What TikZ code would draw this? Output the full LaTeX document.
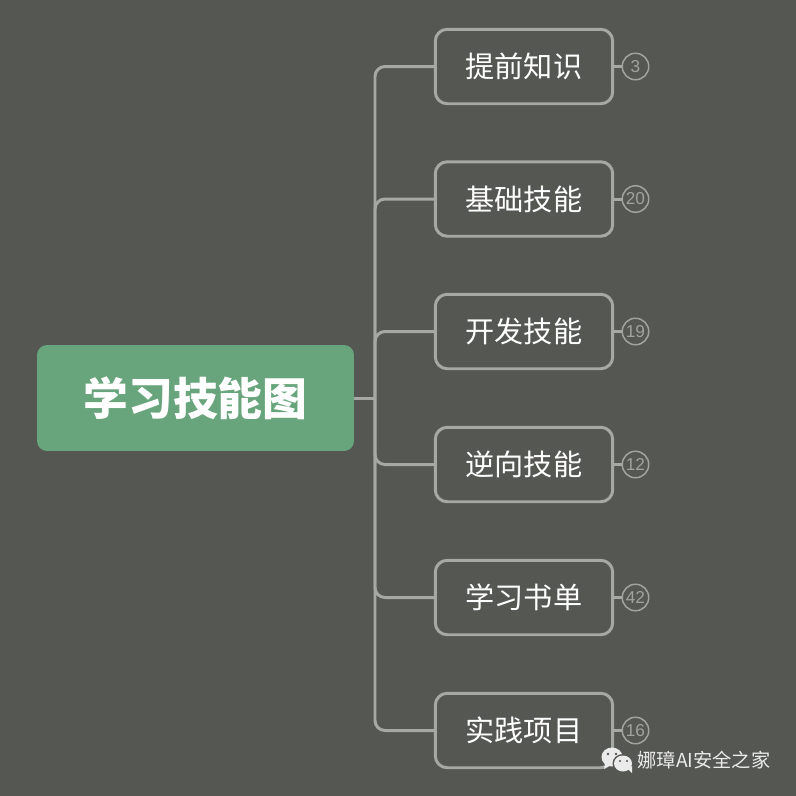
\documentclass[tikz,border=0pt]{standalone}
\usepackage{fontspec}
\setmainfont{Noto Sans CJK SC}
\setsansfont{Liberation Sans}
\usepackage{tikz}
\definecolor{bgcol}{HTML}{555753}
\definecolor{linecol}{HTML}{A5A8A3}
\definecolor{rootcol}{HTML}{68A57C}
\definecolor{badgecol}{HTML}{A0A39E}
\tikzset{
    branch/.style={draw=linecol, line width=1.7pt, rounded corners=0.24cm, minimum width=3.55cm, minimum height=1.49cm, inner sep=0pt, text=white, font=\fontsize{16.6}{20}\selectfont},
    badge/.style={circle, draw=badgecol, line width=0.85pt, minimum size=0.53cm, inner sep=0pt, text=badgecol, font=\sffamily\fontsize{9.8}{11}\selectfont},
    link/.style={draw=linecol, line width=1.7pt, rounded corners=0.2cm},
    stub/.style={draw=linecol, line width=1.7pt}
}

\begin{document}
\begin{tikzpicture}[x=0.02cm,y=-0.02cm]
    \fill[bgcol] (0,0) rectangle (796,796);
    \useasboundingbox (0,0) rectangle (796,796);

    \node (0) at (195.5,398) [fill=rootcol, rounded corners=0.2cm, minimum width=6.34cm, minimum height=2.12cm, inner sep=0pt, text=white, font=\fontsize{25.5}{30}\bfseries\selectfont] {学习技能图};
    \coordinate (j) at (375,398);

    \node (1) at (524,66.5) [branch] {提前知识};
    \node (2) at (524,199) [branch] {基础技能};
    \node (3) at (524,331.5) [branch] {开发技能};
    \node (4) at (524,464.5) [branch] {逆向技能};
    \node (5) at (524,597.5) [branch] {学习书单};
    \node (6) at (524,730.5) [branch] {实践项目};

    \node (c1) at (635.5,66.5) [badge] {3};
    \node (c2) at (635.5,199) [badge] {20};
    \node (c3) at (635.5,331.5) [badge] {19};
    \node (c4) at (635.5,464.5) [badge] {12};
    \node (c5) at (635.5,597.5) [badge] {42};
    \node (c6) at (635.5,730.5) [badge] {16};

    \draw[stub] (0) -- (j);
    \draw[link] (j) |- (1);
    \draw[link] (j) |- (2);
    \draw[link] (j) |- (3);
    \draw[link] (j) |- (4);
    \draw[link] (j) |- (5);
    \draw[link] (j) |- (6);

    \draw[stub] (1) -- (c1);
    \draw[stub] (2) -- (c2);
    \draw[stub] (3) -- (c3);
    \draw[stub] (4) -- (c4);
    \draw[stub] (5) -- (c5);
    \draw[stub] (6) -- (c6);

    % icon
    \fill[white!92!black] (612,757) ellipse [x radius=10.5, y radius=9.5];
    \fill[white!92!black] (605,763) -- (604,769) -- (611,765) -- cycle;
    \fill[bgcol] (623,763.5) ellipse [x radius=10.5, y radius=9.5];
    \fill[white!92!black] (623,763.5) ellipse [x radius=9, y radius=8];
    \fill[white!92!black] (628,769) -- (632,773) -- (632,766) -- cycle;
    \fill[bgcol] (608,754) circle (1.3) (616,754) circle (1.3) (620,761) circle (1.1) (627,761) circle (1.1);

    \node (w) at (704,760) [inner sep=0pt, text=white!92!black, font=\fontsize{10.95}{13}\selectfont] {娜璋AI安全之家};
\end{tikzpicture}
\end{document}
